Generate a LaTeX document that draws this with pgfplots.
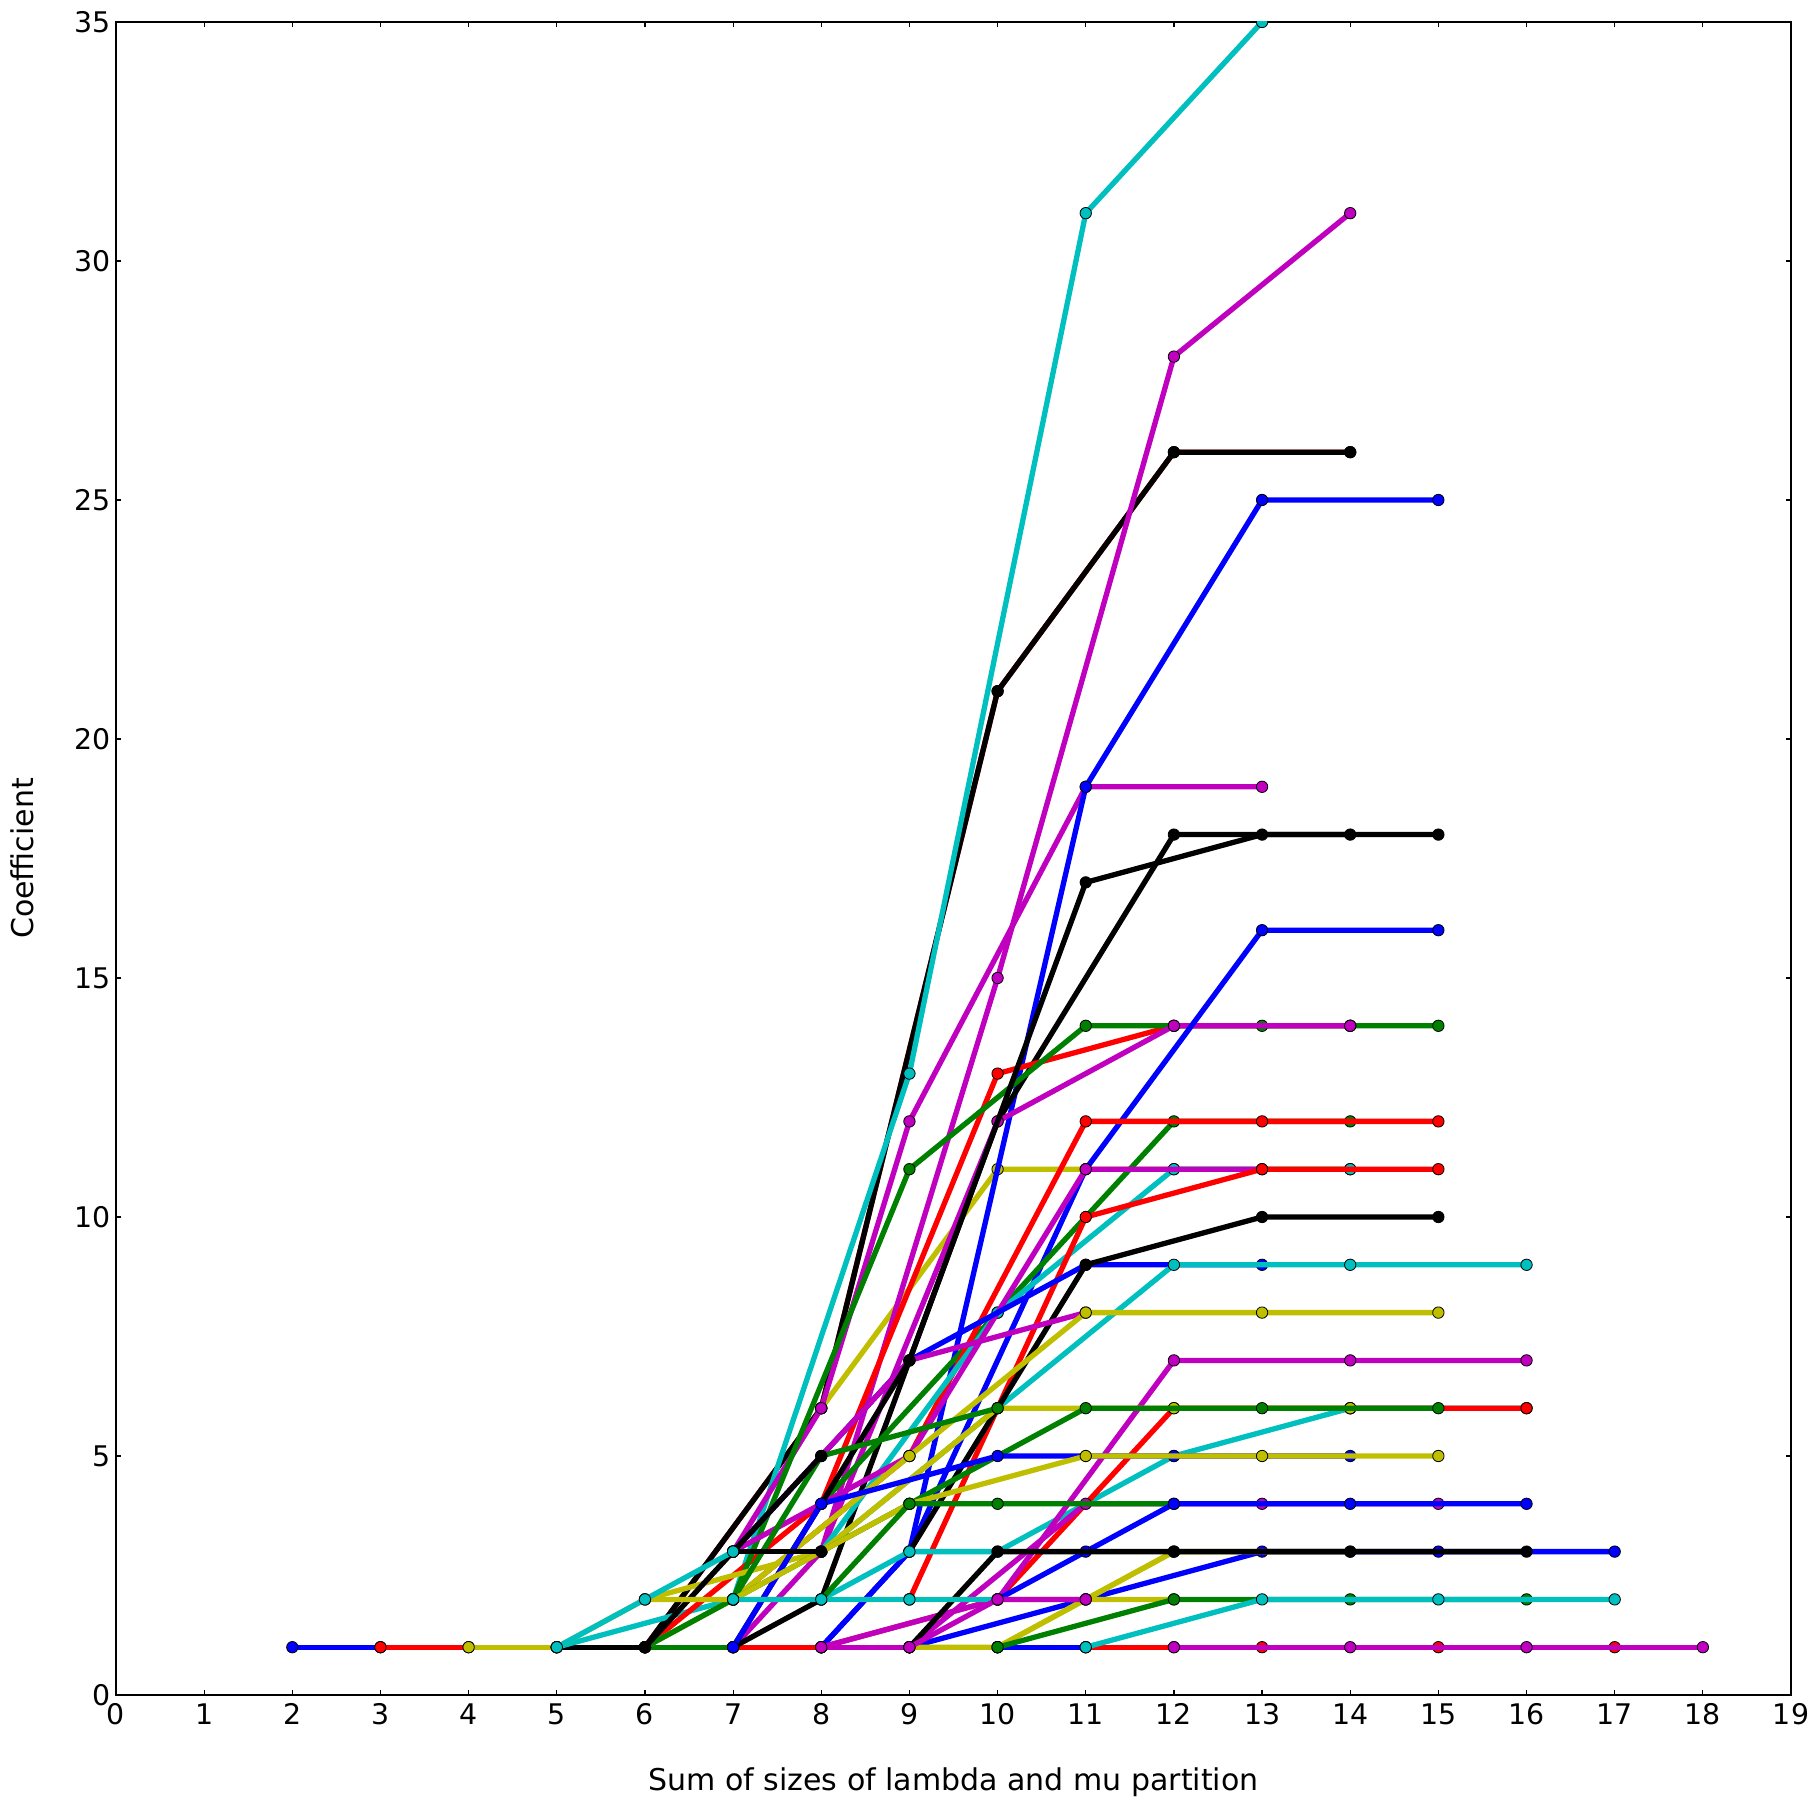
\documentclass[border=0pt]{standalone}
\usepackage{pgfplots}
\pgfplotsset{compat=1.18}
\usepackage{fontspec}
\setmainfont{DejaVu Sans}
\definecolor{cb}{rgb}{0,0,1}
\definecolor{cg}{rgb}{0,0.5,0}
\definecolor{cr}{rgb}{1,0,0}
\definecolor{cc}{rgb}{0,0.75,0.75}
\definecolor{cm}{rgb}{0.75,0,0.75}
\definecolor{cy}{rgb}{0.75,0.75,0}
\definecolor{ck}{rgb}{0,0,0}
\pgfplotsset{
  S/.style={color=#1, line width=2.65pt, line join=round, mark=*, mark size=2.85pt,
    mark options={fill=#1, draw=black, line width=0.4pt, solid}},
}
\begin{document}
\begin{tikzpicture}
\begin{axis}[
  scale only axis, width=837.5pt, height=836.5pt,
  xmin=0, xmax=19, ymin=0, ymax=35,
  xtick={0,1,...,19}, ytick={0,5,...,35},
  tick align=inside, tick pos=both,
  major tick length=2.5pt,
  every tick/.style={black, line width=0.6pt},
  axis line style={line width=1pt},
  tick label style={font=\fontsize{14.2}{17}\selectfont},
  /pgf/number format/assume math mode=true,
  xticklabel style={anchor=north, inner sep=0pt, yshift=-4.2pt},
  yticklabel style={anchor=east, inner sep=0pt, xshift=-2.4pt},
  xlabel={Sum of sizes of lambda and mu partition},
  ylabel={Coefficient},
  label style={font=\fontsize{15}{18}\selectfont},
  xlabel style={at={([yshift=-47.5pt]axis description cs:0.5,0)}, anchor=base},
  ylabel style={at={([xshift=-41pt]axis description cs:0,0.5)}, anchor=base},
  clip marker paths=true,
]
\coordinate (LL) at (rel axis cs:0,0);
\coordinate (UR) at (rel axis cs:1,1);
% base chain at 1
\addplot[S=cb] coordinates {(2,1) (3,1)};
\addplot[S=cr] coordinates {(3,1) (4,1)};
\addplot[S=cy] coordinates {(4,1) (5,1)};
\addplot[S=ck] coordinates {(5,1) (6,1)};
\addplot[S=cg] coordinates {(6,1) (7,1)};
\addplot[S=cr] coordinates {(7,1) (8,1)};
\addplot[S=cm] coordinates {(8,1) (9,1)};
\addplot[S=ck] coordinates {(9,1) (10,1)};
\addplot[S=cb] coordinates {(10,1) (11,1)};
\addplot[S=cr] coordinates {(11,1) (12,1) (13,1) (15,1) (17,1)};
% upper series
\addplot[S=cy] coordinates {(8,6) (10,11) (12,11) (14,11)};
\addplot[S=cr] coordinates {(6,1) (8,6) (10,21) (12,26) (14,26)};
\addplot[S=ck] coordinates {(6,1) (8,6) (10,21) (12,26) (14,26)};
\addplot[S=cc] coordinates {(5,1) (7,2) (9,13) (11,31) (13,35)};
\addplot[S=cm] coordinates {(7,1) (8,3) (10,15) (12,28) (14,31)};
\addplot[S=cm] coordinates {(7,3) (8,6) (9,12) (11,19) (13,19)};
\addplot[S=cb] coordinates {(8,1) (9,3) (11,19) (13,25) (15,25)};
\addplot[S=ck] coordinates {(7,1) (8,2) (10,12) (12,18) (14,18)};
\addplot[S=cr] coordinates {(6,1) (8,4) (10,13) (12,14) (14,14)};
\addplot[S=cg] coordinates {(7,2) (9,11) (11,14) (12,14) (13,14) (14,14) (15,14)};
\addplot[S=cm] coordinates {(8,3) (10,12) (12,14) (14,14)};
\addplot[S=cb] coordinates {(8,1) (9,3) (11,11) (13,16) (15,16)};
\addplot[S=cg] coordinates {(8,4) (10,8) (12,12) (14,12)};
\addplot[S=cr] coordinates {(7,2) (9,5) (11,12) (13,12) (15,12)};
\addplot[S=cc] coordinates {(8,3) (10,8) (12,11) (14,11)};
\addplot[S=cm] coordinates {(7,3) (9,5) (11,11) (13,11)};
\addplot[S=cr] coordinates {(9,2) (11,10) (13,11) (15,11)};
\addplot[S=cb] coordinates {(7,3) (9,7) (11,9) (13,9)};
\addplot[S=cc] coordinates {(8,3) (10,6) (12,9) (14,9) (16,9)};
\addplot[S=ck] coordinates {(9,3) (11,9) (13,10) (15,10)};
\addplot[S=cm] coordinates {(7,3) (9,7) (11,8)};
\addplot[S=ck] coordinates {(7,1) (9,7) (11,17) (13,18) (15,18)};
\addplot[S=cy] coordinates {(6,1) (7,2) (9,5) (11,8) (13,8) (15,8)};
\addplot[S=cc] coordinates {(8,2) (9,3) (10,3) (12,5) (14,6) (16,6)};
\addplot[S=cr] coordinates {(8,1) (10,2) (12,6) (14,6) (16,6)};
\addplot[S=cm] coordinates {(8,1) (10,2) (12,7) (14,7) (16,7)};
\addplot[S=cy] coordinates {(6,2) (8,3) (10,6) (12,6) (14,6)};
\addplot[S=cg] coordinates {(6,1) (7,2) (8,5) (10,6)};
\addplot[S=cg] coordinates {(7,2) (9,4) (11,6) (13,6) (15,6)};
\addplot[S=cb] coordinates {(7,1) (8,4) (10,5) (12,5) (14,5)};
\addplot[S=cy] coordinates {(7,2) (9,4) (11,5) (13,5) (15,5)};
\addplot[S=cm] coordinates {(9,1) (11,4) (13,4) (15,4)};
\addplot[S=cg] coordinates {(8,2) (9,4) (10,4) (12,4)};
\addplot[S=cb] coordinates {(10,2) (11,3) (12,4) (14,4) (16,4)};
\addplot[S=cb] coordinates {(9,1) (11,2) (13,3) (15,3) (17,3)};
\addplot[S=cy] coordinates {(9,1) (10,1) (12,3) (14,3)};
\addplot[S=cy] coordinates {(10,1) (11,2) (12,3)};
\addplot[S=ck] coordinates {(9,1) (10,3) (12,3) (14,3) (16,3)};
\addplot[S=ck] coordinates {(6,1) (7,3) (8,5)};
\addplot[S=ck] coordinates {(7,3) (8,3)};
\addplot[S=cy] coordinates {(5,1) (6,2) (7,2) (8,2) (9,2) (10,2) (11,2) (12,2)};
\addplot[S=cc] coordinates {(7,2) (8,2) (9,2) (10,2)};
\addplot[S=cm] coordinates {(9,1) (10,2) (11,2)};
\addplot[S=cg] coordinates {(10,1) (12,2) (14,2) (16,2)};
\addplot[S=cc] coordinates {(11,1) (13,2) (15,2) (17,2)};
\addplot[S=cc] coordinates {(5,1) (6,2) (7,3)};
\addplot[S=cm] coordinates {(12,1) (14,1) (16,1) (18,1)};
\end{axis}
\pgfresetboundingbox
\path[use as bounding box] ([shift={(-58pt,-54pt)}]LL) rectangle ([shift={(13pt,11pt)}]UR);
\end{tikzpicture}
\end{document}
